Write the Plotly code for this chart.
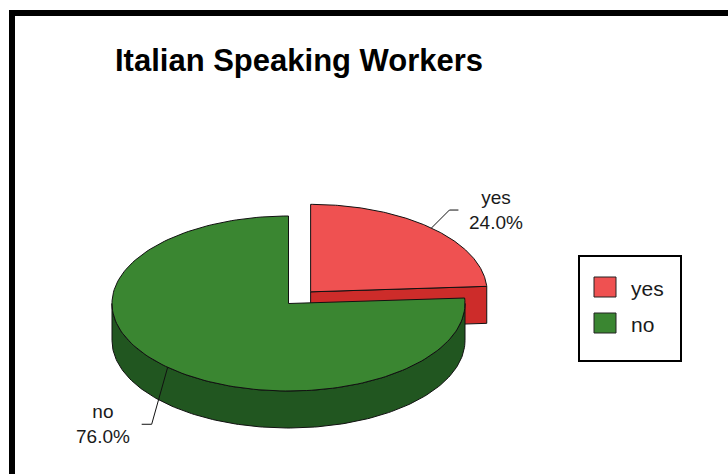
import numpy as np
import plotly.graph_objects as go

# ---- data ----
categories = ["yes", "no"]
values = [24.0, 76.0]
chart_title = "Italian Speaking Workers"

# ---- styling ----
top_colors = ["#EF5151", "#3A8631"]
side_colors = ["#CD2C2A", "#215620"]
explode = [0.183, 0.0]
FONT = "Liberation Sans, Arial, sans-serif"
TEXT_COLOR = "#1a1a1a"

# pie geometry in page pixels (y grows downward)
CX, CY = 288.5, 303.5
RX, RY = 176.5, 87.5
DEPTH = 37

W, H = 728, 474


def rim(cx, cy, a0, a1, dy=0.0, n=160):
    """Points on the elliptical rim; angles in degrees clockwise from 12 o'clock."""
    t = np.radians(np.linspace(a0, a1, n))
    return cx + RX * np.sin(t), cy - RY * np.cos(t) + dy


def poly(xs, ys, color):
    return go.Scatter(
        x=list(xs), y=list(ys), mode="lines", fill="toself",
        fillcolor=color, line=dict(color="#111111", width=1),
        hoverinfo="skip", showlegend=False,
    )


total = float(sum(values))
starts, ends, centers = [], [], []
acc = 0.0
for v, e in zip(values, explode):
    a0 = acc / total * 360.0
    acc += v
    a1 = acc / total * 360.0
    mid = np.radians((a0 + a1) / 2)
    cx = CX + e * RX * np.sin(mid)
    cy = CY - e * RY * np.cos(mid)
    starts.append(a0)
    ends.append(a1)
    centers.append((cx, cy))

side_traces, top_traces = [], []
for i in range(len(values)):
    a0, a1 = starts[i], ends[i]
    cx, cy = centers[i]
    # radial walls that face the viewer
    for ang, sign in ((a0, -1), (a1, 1)):
        if sign * np.sin(np.radians(ang)) > 1e-6:
            rx = cx + RX * np.sin(np.radians(ang))
            ry = cy - RY * np.cos(np.radians(ang))
            side_traces.append(poly([cx, rx, rx, cx, cx],
                                    [cy, ry, ry + DEPTH, cy + DEPTH, cy],
                                    side_colors[i]))
    # outer curved wall on the front half
    w0, w1 = max(a0, 90.0), min(a1, 270.0)
    if w1 > w0:
        ux, uy = rim(cx, cy, w0, w1)
        lx, ly = rim(cx, cy, w1, w0, dy=DEPTH)
        side_traces.append(poly(np.r_[ux, lx, ux[:1]], np.r_[uy, ly, uy[:1]],
                                side_colors[i]))
    # top face
    tx, ty = rim(cx, cy, a0, a1)
    top_traces.append(poly(np.r_[cx, tx, cx], np.r_[cy, ty, cy], top_colors[i]))

fig = go.Figure(side_traces + top_traces)

shapes = []
annotations = []

# leader lines and slice labels
elbows = [(18, -18), (-16, 57)]
tails = [9, -10]
for i, cat in enumerate(categories):
    cx, cy = centers[i]
    mid = np.radians((starts[i] + ends[i]) / 2)
    ax = cx + RX * np.sin(mid)
    ay = cy - RY * np.cos(mid)
    ex, ey = ax + elbows[i][0], ay + elbows[i][1]
    tx = ex + tails[i]
    fig.add_trace(go.Scatter(x=[ax, ex, tx], y=[ay, ey, ey], mode="lines",
                             line=dict(color="#111111", width=1),
                             hoverinfo="skip", showlegend=False))
    pct = values[i] / total * 100
    right = tails[i] > 0
    annotations.append(dict(
        x=tx + (9 if right else -10), y=ey, xref="x", yref="y",
        text=f"{cat}<br>{pct:.1f}%", showarrow=False,
        xanchor="left" if right else "right", yanchor="middle", align="center",
        font=dict(family=FONT, size=19, color=TEXT_COLOR),
    ))

# legend box
LX0, LY0, LX1, LY1 = 579, 256, 681, 361
shapes.append(dict(type="rect", xref="x", yref="y", x0=LX0, y0=LY0, x1=LX1, y1=LY1,
                   line=dict(color="black", width=2), fillcolor="white", layer="below"))
for i, cat in enumerate(categories):
    sy = 277 + i * 36
    shapes.append(dict(type="rect", xref="x", yref="y", x0=594, y0=sy, x1=616, y1=sy + 20,
                       line=dict(color="#222222", width=1), fillcolor=top_colors[i]))
    annotations.append(dict(x=629, y=sy + 11, xref="x", yref="y", text=cat,
                            showarrow=False, xanchor="left", yanchor="middle",
                            font=dict(family=FONT, size=21, color=TEXT_COLOR)))

# title
annotations.append(dict(x=113, y=60, xref="x", yref="y", text=f"<b>{chart_title}</b>",
                        showarrow=False, xanchor="left", yanchor="middle",
                        font=dict(family=FONT, size=31, color="black")))

# outer frame (top and left edges)
shapes.append(dict(type="line", xref="x", yref="y", x0=12, y0=13, x1=W + 10, y1=13,
                   line=dict(color="black", width=6)))
shapes.append(dict(type="line", xref="x", yref="y", x0=12, y0=10, x1=12, y1=H + 10,
                   line=dict(color="black", width=6)))

fig.update_layout(
    width=W, height=H, margin=dict(l=0, r=0, t=0, b=0, pad=0),
    paper_bgcolor="white", plot_bgcolor="white", showlegend=False,
    xaxis=dict(range=[0, W], visible=False, fixedrange=True),
    yaxis=dict(range=[H, 0], visible=False, fixedrange=True),
    shapes=shapes, annotations=annotations,
)

fig.write_html("out.html")
